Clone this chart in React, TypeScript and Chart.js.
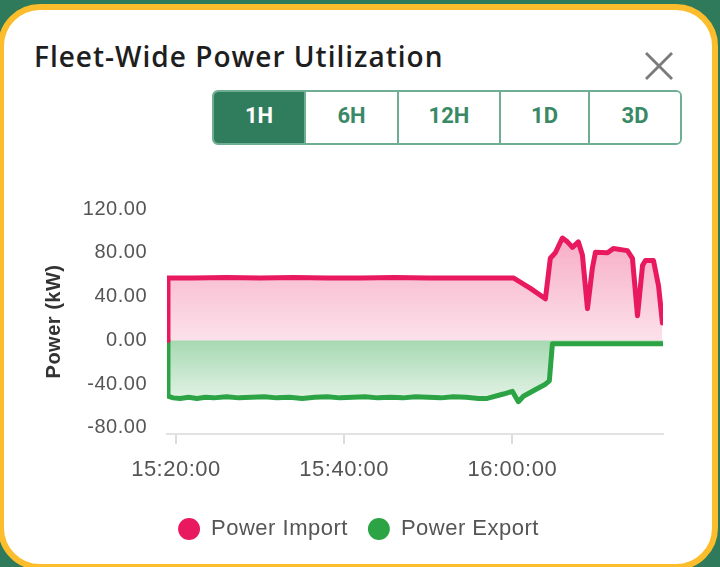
import React, { useEffect, useRef } from "react";
import { Chart, registerables } from "chart.js";

Chart.register(...registerables);

// ---- data ----
const importTimes = [
  "15:18:56", "15:19:03", "15:22:00", "15:26:00", "15:30:00", "15:34:00", "15:38:00",
  "15:42:00", "15:46:00", "15:50:00", "15:54:00", "15:58:00", "16:00:07", "16:02:09",
  "16:03:56", "16:04:31", "16:05:07", "16:05:57", "16:06:33", "16:07:09", "16:07:51",
  "16:08:20", "16:08:56", "16:09:31", "16:09:53", "16:11:19", "16:12:01", "16:13:41",
  "16:14:17", "16:14:53", "16:15:29", "16:15:50", "16:16:47", "16:17:23", "16:17:51",
];
const importValues = [
  0, 57, 57, 57.5, 57, 57.5, 57, 57, 57.5, 57, 57, 57, 57, 47.5,
  38, 75, 80, 93.5, 90, 85, 90,
  78, 29, 66, 80.5, 80, 84, 82,
  75, 22.5, 68.5, 73, 73, 50, 16,
];
const exportTimes = [
  "15:18:56", "15:19:03", "15:19:40", "15:20:30", "15:21:30", "15:22:30", "15:23:30",
  "15:24:30", "15:26:00", "15:27:30", "15:29:00", "15:30:30", "15:32:00", "15:33:30",
  "15:35:00", "15:36:30", "15:38:00", "15:39:30", "15:41:00", "15:42:30", "15:44:00",
  "15:45:30", "15:47:00", "15:48:30", "15:50:00", "15:51:30", "15:53:00", "15:54:30",
  "15:56:00", "15:57:01", "15:58:56", "16:00:00", "16:00:43", "16:01:19", "16:02:30",
  "16:03:56", "16:04:24", "16:04:46", "16:17:55",
];
const exportValues = [
  0, -51, -52.5, -53, -52, -53, -52,
  -52.5, -51.5, -52.5, -52, -51.5, -52.5, -52,
  -53, -52, -51.5, -52.5, -52, -51.5, -52.5,
  -52, -52.5, -51.5, -52, -52.5, -51.5, -52,
  -53, -53, -49, -46.5, -56, -51, -46,
  -40, -37, -3, -3,
];
const xTickLabels = ["15:20:00", "15:40:00", "16:00:00"];
const yTickValues = [-80, -40, 0, 40, 80, 120];
const xRange = ["15:18:56", "16:17:55"];
const yRange = [-85.5, 120];
const seriesNames = ["Power Import", "Power Export"];
const rangeButtons = ["1H", "6H", "12H", "1D", "3D"];
const buttonWidths = [92, 93, 102, 89, 94];

const toSec = (s: string) => {
  const [h, m, x] = s.split(":").map(Number);
  return h * 3600 + m * 60 + x;
};
const pad2 = (n: number) => String(n).padStart(2, "0");
const fmtTime = (v: number) => {
  const t = Math.round(v);
  return `${pad2(Math.floor(t / 3600))}:${pad2(Math.floor((t % 3600) / 60))}:${pad2(t % 60)}`;
};

const PINK = "#e8195e";
const GREEN = "#2ca445";
const FAMILY = "'Liberation Sans', Arial, sans-serif";

const spacingPlugin = {
  id: "spacing",
  beforeDraw: (c: any) => {
    c.ctx.letterSpacing = "0.5px";
  },
  afterLayout: (c: any) => {
    if (c.legend) {
      c.legend.left += 2;
      c.legend.right += 2;
    }
  },
};

export default function App() {
  const canvasRef = useRef<HTMLCanvasElement | null>(null);

  useEffect(() => {
    const canvas = canvasRef.current;
    if (!canvas) return;
    const pinkFill = (ctx: any) => {
      const chart = ctx.chart;
      const { chartArea, scales } = chart;
      if (!chartArea) return "rgba(232,25,94,0.2)";
      const y = scales.y;
      const g = chart.ctx.createLinearGradient(0, y.getPixelForValue(95), 0, y.getPixelForValue(0));
      g.addColorStop(0, "rgba(232,25,94,0.36)");
      g.addColorStop(1, "rgba(232,25,94,0.13)");
      return g;
    };
    const greenFill = (ctx: any) => {
      const chart = ctx.chart;
      const { chartArea, scales } = chart;
      if (!chartArea) return "rgba(44,164,69,0.2)";
      const y = scales.y;
      const g = chart.ctx.createLinearGradient(0, y.getPixelForValue(0), 0, y.getPixelForValue(-55));
      g.addColorStop(0, "rgba(44,164,69,0.42)");
      g.addColorStop(1, "rgba(44,164,69,0.13)");
      return g;
    };

    const chart = new Chart(canvas, {
      type: "line",
      data: {
        datasets: [
          {
            label: seriesNames[0],
            data: importTimes.map((t, i) => ({ x: toSec(t), y: importValues[i] })),
            borderColor: PINK,
            backgroundColor: pinkFill,
            borderWidth: 5,
            fill: "origin",
            pointRadius: 0,
            tension: 0,
            borderJoinStyle: "round",
            borderCapStyle: "round",
          },
          {
            label: seriesNames[1],
            data: exportTimes.map((t, i) => ({ x: toSec(t), y: exportValues[i] })),
            borderColor: GREEN,
            backgroundColor: greenFill,
            borderWidth: 5,
            fill: "origin",
            pointRadius: 0,
            tension: 0,
            borderJoinStyle: "round",
            borderCapStyle: "round",
          },
        ],
      },
      plugins: [spacingPlugin],
      options: {
        animation: false,
        responsive: false,
        devicePixelRatio: 1,
        layout: { padding: { left: 38, right: 57, top: 49, bottom: 17 } },
        scales: {
          x: {
            type: "linear",
            min: toSec(xRange[0]),
            max: toSec(xRange[1]),
            afterBuildTicks: (s: any) => {
              s.ticks = xTickLabels.map((t) => ({ value: toSec(t) }));
            },
            afterFit: (s: any) => {
              s.height = 64;
            },
            grid: {
              display: true,
              drawOnChartArea: false,
              drawTicks: true,
              tickLength: 10,
              color: "#dcdcdc",
              lineWidth: 2,
            },
            border: { display: true, color: "#e2e2e2", width: 2 },
            ticks: {
              color: "#555",
              font: { family: FAMILY, size: 22 },
              padding: 13,
              maxRotation: 0,
              callback: (v: any) => fmtTime(Number(v)),
            },
          },
          y: {
            min: yRange[0],
            max: yRange[1],
            afterBuildTicks: (s: any) => {
              s.ticks = yTickValues.map((v) => ({ value: v }));
            },
            afterFit: (s: any) => {
              s.width = 129;
            },
            grid: { display: false },
            border: { display: false },
            ticks: {
              color: "#555",
              font: { family: FAMILY, size: 20 },
              padding: 12,
              callback: (v: any) => Number(v).toFixed(2),
            },
            title: {
              display: true,
              text: "Power (kW)",
              color: "#333",
              font: { family: FAMILY, size: 20, weight: "bold" },
            },
          },
        },
        plugins: {
          tooltip: { enabled: false },
          legend: {
            position: "bottom",
            labels: {
              usePointStyle: true,
              pointStyle: "circle",
              boxHeight: 15.5,
              padding: 20,
              color: "#555",
              font: { family: FAMILY, size: 22 },
              generateLabels: (c: any) =>
                (Chart.defaults.plugins.legend.labels as any)
                  .generateLabels(c)
                  .map((l: any) => ({ ...l, fillStyle: l.strokeStyle, lineWidth: 0 })),
            },
          },
        },
      },
    } as any);
    return () => chart.destroy();
  }, []);

  return (
    <div
      style={{
        position: "fixed",
        left: 0,
        top: 0,
        width: 720,
        height: 567,
        overflow: "hidden",
        background: "#2f7a5b",
        fontFamily: "Roboto, sans-serif",
      }}
    >
      <div
        style={{
          position: "absolute",
          left: -2,
          top: 4,
          width: 720,
          height: 566,
          boxSizing: "border-box",
          border: "6px solid #fbbd2c",
          borderRadius: 42,
          background: "#fff",
        }}
      />
      <div
        style={{
          position: "absolute",
          left: 34,
          top: 41,
          fontFamily: "'Open Sans', sans-serif",
          fontSize: 28,
          lineHeight: "30px",
          letterSpacing: "1px",
          fontWeight: 600,
          color: "#1e1e1e",
          whiteSpace: "nowrap",
        }}
      >
        Fleet-Wide Power Utilization
      </div>
      <svg
        style={{ position: "absolute", left: 644, top: 51 }}
        width={30}
        height={30}
        viewBox="0 0 30 30"
      >
        <line x1={2} y1={2} x2={28} y2={28} stroke="#7b7b7b" strokeWidth={2.8} />
        <line x1={28} y1={2} x2={2} y2={28} stroke="#7b7b7b" strokeWidth={2.8} />
      </svg>
      <div
        style={{
          position: "absolute",
          left: 212,
          top: 90,
          height: 55,
          display: "flex",
          boxSizing: "border-box",
          border: "2px solid #6fae93",
          borderRadius: 6,
          overflow: "hidden",
        }}
      >
        {rangeButtons.map((b, i) => (
          <div
            key={b}
            style={{
              width: buttonWidths[i] - (i === 0 ? 2 : 0) - (i === rangeButtons.length - 1 ? 2 : 0),
              boxSizing: "border-box",
              borderLeft: i === 0 ? "none" : "2px solid #6fae93",
              background: i === 0 ? "#2f7d5d" : "#fff",
              color: i === 0 ? "#fff" : "#3a8966",
              fontWeight: 700,
              fontSize: 22,
              paddingBottom: 5,
              display: "flex",
              alignItems: "center",
              justifyContent: "center",
            }}
          >
            {b}
          </div>
        ))}
      </div>
      <div style={{ position: "absolute", left: 0, top: 160, width: 720, height: 407 }}>
        <canvas ref={canvasRef} width={720} height={407} style={{ width: 720, height: 407 }} />
      </div>
    </div>
  );
}
